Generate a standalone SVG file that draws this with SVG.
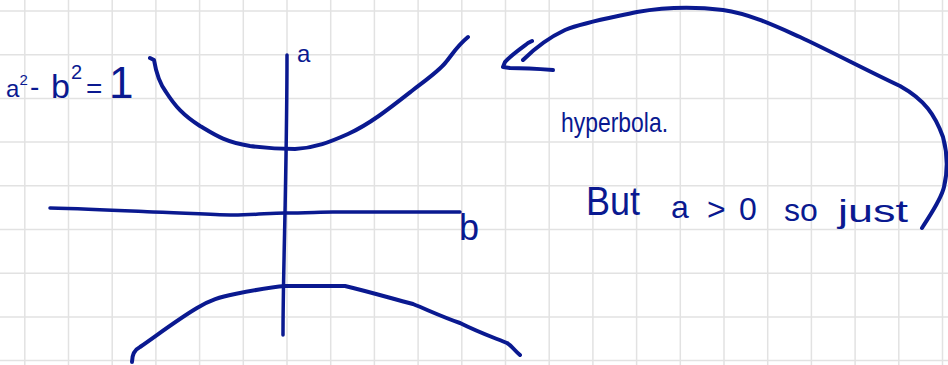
<svg xmlns="http://www.w3.org/2000/svg" width="948" height="365" viewBox="0 0 948 365">
<defs>
<style>
.grid line{stroke:#e2e2e2;stroke-width:1.5}
.ink{fill:none;stroke:#0a1990;stroke-width:4;stroke-linecap:round;stroke-linejoin:round}
.axis{fill:none;stroke:#0a1990;stroke-width:3.5;stroke-linecap:round;stroke-linejoin:round}
text{font-family:"Liberation Sans",Arial,sans-serif;fill:#0a1990}
</style>
</defs>
<rect width="948" height="365" fill="#ffffff"/>
<g id="grid" class="grid">
<line x1="24.8" y1="0" x2="24.8" y2="365"/>
<line x1="68.5" y1="0" x2="68.5" y2="365"/>
<line x1="112.2" y1="0" x2="112.2" y2="365"/>
<line x1="155.9" y1="0" x2="155.9" y2="365"/>
<line x1="199.6" y1="0" x2="199.6" y2="365"/>
<line x1="243.3" y1="0" x2="243.3" y2="365"/>
<line x1="287" y1="0" x2="287" y2="365"/>
<line x1="330.7" y1="0" x2="330.7" y2="365"/>
<line x1="374.4" y1="0" x2="374.4" y2="365"/>
<line x1="418.1" y1="0" x2="418.1" y2="365"/>
<line x1="461.8" y1="0" x2="461.8" y2="365"/>
<line x1="505.5" y1="0" x2="505.5" y2="365"/>
<line x1="549.2" y1="0" x2="549.2" y2="365"/>
<line x1="592.9" y1="0" x2="592.9" y2="365"/>
<line x1="636.6" y1="0" x2="636.6" y2="365"/>
<line x1="680.3" y1="0" x2="680.3" y2="365"/>
<line x1="724" y1="0" x2="724" y2="365"/>
<line x1="767.7" y1="0" x2="767.7" y2="365"/>
<line x1="811.4" y1="0" x2="811.4" y2="365"/>
<line x1="855.1" y1="0" x2="855.1" y2="365"/>
<line x1="898.8" y1="0" x2="898.8" y2="365"/>
<line x1="942.5" y1="0" x2="942.5" y2="365"/>
<line x1="0" y1="11" x2="948" y2="11"/>
<line x1="0" y1="54.7" x2="948" y2="54.7"/>
<line x1="0" y1="98.4" x2="948" y2="98.4"/>
<line x1="0" y1="142.1" x2="948" y2="142.1"/>
<line x1="0" y1="185.8" x2="948" y2="185.8"/>
<line x1="0" y1="229.5" x2="948" y2="229.5"/>
<line x1="0" y1="273.2" x2="948" y2="273.2"/>
<line x1="0" y1="316.9" x2="948" y2="316.9"/>
<line x1="0" y1="360.6" x2="948" y2="360.6"/>
</g>
<g id="axes">
<path class="axis" d="M287,55 C287,110 286,160 285,213 C284,260 283,300 283,335"/>
<path class="axis" d="M50,208 C90,209 130,211 153,212 C190,213 215,215 233,215 C255,215 270,213 285,213 C305,213 320,212 333,212 C360,212 380,212 400,212 C420,212 440,212 460,212"/>
</g>
<g id="upper-branch">
<path class="ink" d="M150,58 L154,60 C156,72 160,84 166,92 C175,106 183,115 200,126 C215,135 225,142 250,146 C265,148 280,149 295,149 C315,148 330,142 348,134 C370,124 390,108 413,90 C430,77 440,70 446,62 C452,55 456,47 468,37"/>
</g>
<g id="lower-branch">
<path class="ink" d="M132,362 C132,356 134,350 140,347 C160,333 180,318 197,308 C210,300 220,297 235,294 C255,290 270,287 285,286 L345,286 C370,292 390,298 413,304 C430,311 445,318 460,323 C480,333 495,338 507,343 C512,346 514,350 520,355"/>
</g>
<g id="connectors">
<path class="ink" d="M523,60 C535,48 548,38 565,30 C585,22 610,18 637,12 C660,8 690,6 723,10 C750,14 773,25 800,37 C830,51 870,72 900,86 C925,100 935,115 943,137 C948,155 948,170 944,187 C941,200 930,215 922,228"/>
<path class="ink" d="M532,41 L528,43 C520,49 510,56 505,62 L503,67 L510,68 C525,68 540,69 553,70"/>
</g>
<g id="labels">
<text><tspan x="6" y="97" font-size="24">a</tspan><tspan x="19.5" y="85" font-size="15">2</tspan><tspan x="30" y="96" font-size="28">-</tspan><tspan x="51" y="98" font-size="34">b</tspan><tspan x="71" y="79" font-size="20">2</tspan><tspan x="86" y="98" font-size="28">=</tspan><tspan x="109" y="98" font-size="44">1</tspan></text>
<text x="297" y="62" font-size="24">a</text>
<text x="459" y="240" font-size="36">b</text>
<text x="561" y="132" font-size="28" textLength="107" lengthAdjust="spacingAndGlyphs">hyperbola.</text>
<text font-size="32"><tspan x="586" y="215" font-size="40" textLength="54" lengthAdjust="spacingAndGlyphs">But</tspan><tspan x="671" y="218">a</tspan><tspan x="707" y="220">&gt;</tspan><tspan x="739" y="220">0</tspan><tspan x="784" y="221">so</tspan><tspan x="838" y="222" textLength="70" lengthAdjust="spacingAndGlyphs">just</tspan></text>
</g>
</svg>
